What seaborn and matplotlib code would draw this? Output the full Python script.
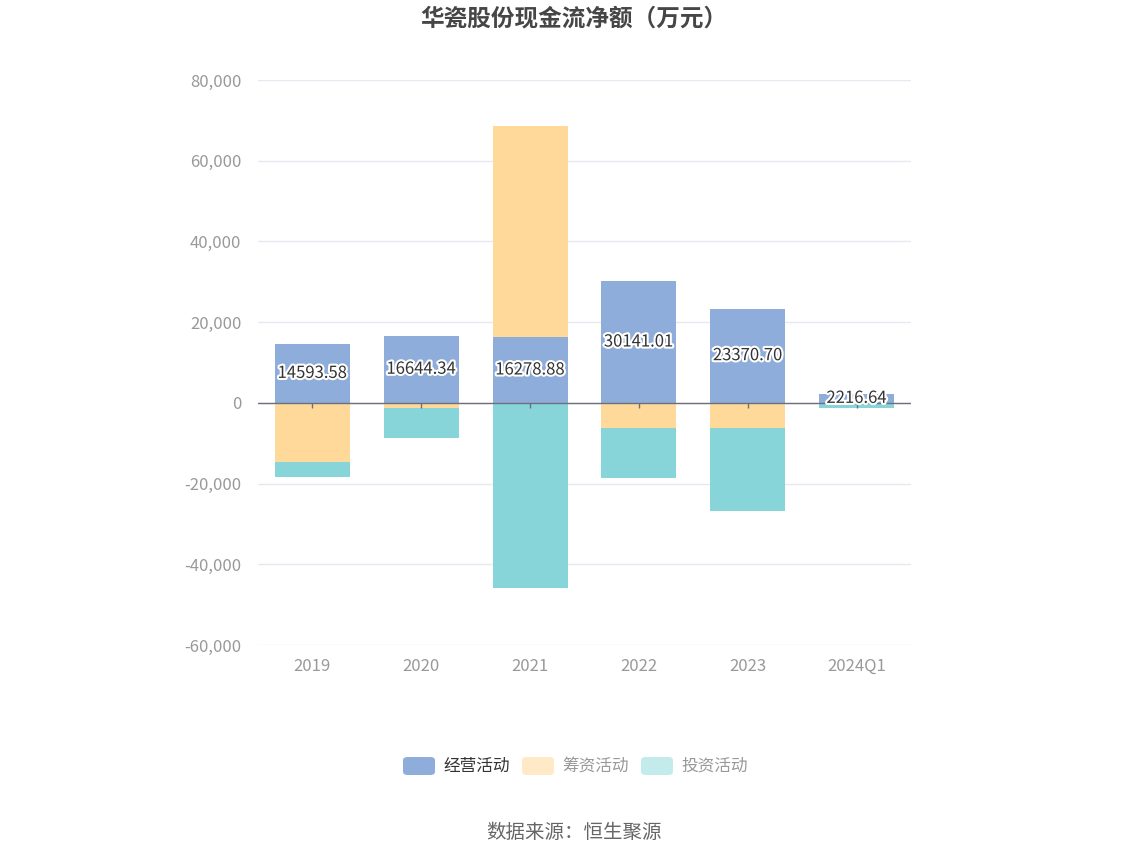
import matplotlib
matplotlib.use("Agg")
import matplotlib.pyplot as plt
import matplotlib.patheffects as pe
from matplotlib.patches import FancyBboxPatch
import numpy as np
import seaborn as sns

# data (万元)
years = ["2019", "2020", "2021", "2022", "2023", "2024Q1"]
operating = [14593.58, 16644.34, 16278.88, 30141.01, 23370.70, 2216.64]
financing = [-14540, -1310, 52330, -6110, -6110, -100]
investing = [-3720, -7290, -45820, -12470, -20720, -1060]
series_names = ["经营活动", "筹资活动", "投资活动"]

sns.set_theme(style="white")
plt.rcParams["font.family"] = ["Noto Sans CJK SC", "DejaVu Sans"]
plt.rcParams["axes.unicode_minus"] = False

c_op, c_fin, c_inv = "#8eaddb", "#ffd999", "#88d5d9"

fig = plt.figure(figsize=(11.48, 8.59), dpi=100)
ax = fig.add_axes([0.2247, 0.2491, 0.5689, 0.6578])

op = np.array(operating)
fin = np.array(financing)
inv = np.array(investing)

# positive parts stack upward, negative parts stack downward
fin_bottom = np.where(fin >= 0, op, 0)
inv_bottom = np.where(inv >= 0, op + np.clip(fin, 0, None), np.clip(fin, None, 0))

w = 0.69
sns.barplot(x=years, y=op, color=c_op, width=w, saturation=1, linewidth=0,
            ax=ax, zorder=3)
sns.barplot(x=years, y=fin, bottom=fin_bottom, color=c_fin, width=w,
            saturation=1, linewidth=0, ax=ax, zorder=3)
sns.barplot(x=years, y=inv, bottom=inv_bottom, color=c_inv, width=w,
            saturation=1, linewidth=0, ax=ax, zorder=3)

ax.set_ylim(-60000, 80000)
ax.set_xlim(-0.5, len(years) - 0.5)
ax.set_yticks(np.arange(-60000, 80001, 20000))
ax.yaxis.set_major_formatter(matplotlib.ticker.FuncFormatter(lambda v, p: f"{int(v):,}"))
ax.grid(axis="y", color="#e6e9f0", linewidth=1, zorder=0)
ax.axhline(0, color="#6e7079", linewidth=1, zorder=4)
ax.vlines(np.arange(len(years)), -1200, 0, color="#6e7079", linewidth=1, zorder=4)
for s in ax.spines.values():
    s.set_visible(False)
ax.tick_params(axis="both", length=0, labelsize=12, colors="#999999", pad=12)
ax.tick_params(axis="x", pad=9)
ax.set_xlabel("")
ax.set_ylabel("")

# value labels on operating bars
for i, v in enumerate(operating):
    ax.text(i, v / 2, f"{v:.2f}", ha="center", va="center", fontsize=12,
            color="#333333", zorder=6,
            path_effects=[pe.withStroke(linewidth=3, foreground="white")])

fig.text(0.5, 0.979, "华瓷股份现金流净额（万元）", ha="center", va="center",
         fontsize=17, fontweight="bold", color="#464646")

# legend
leg_cols = ["#8eaddb", "#ffe9c6", "#c3ebec"]
leg_text_cols = ["#333333", "#999999", "#999999"]
leg_x = [403, 522, 641]
ly = 859 - 766
for x0, name, c, tc in zip(leg_x, series_names, leg_cols, leg_text_cols):
    patch = FancyBboxPatch((x0 / 1148, (ly - 9) / 859), 32 / 1148, 18 / 859,
                           boxstyle="round,pad=0,rounding_size=0.004",
                           transform=fig.transFigure, facecolor=c, edgecolor="none")
    fig.patches.append(patch)
    fig.text((x0 + 40) / 1148, ly / 859, name, ha="left", va="center",
             fontsize=12, color=tc)

fig.text(0.5, 1 - 832 / 859, "数据来源：恒生聚源", ha="center", va="center",
         fontsize=14, color="#666666")

fig.savefig("out.png", dpi=100, facecolor="white")
